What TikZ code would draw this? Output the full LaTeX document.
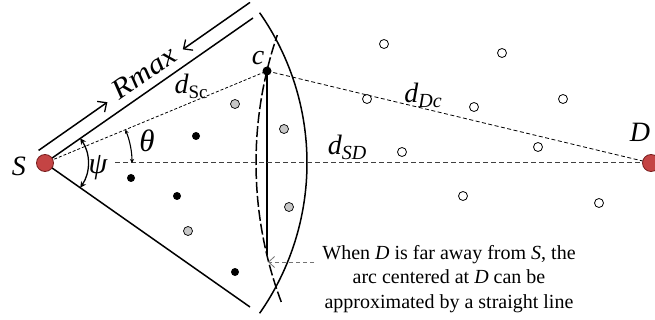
\documentclass[tikz,border=0pt]{standalone}
\usepackage{fontspec}
\setmainfont{Liberation Serif}
\usetikzlibrary{arrows.meta,backgrounds}
\begin{document}
\begin{tikzpicture}[x=1pt,y=-1pt,
  solidline/.style={line width=1.5pt},
  thindash/.style={line width=0.8pt, dash pattern=on 3pt off 2pt},
  bdot/.style={circle, fill=black, inner sep=0pt, minimum size=8pt},
  gdot/.style={circle, draw=black, line width=0.7pt, fill=black!22, inner sep=0pt, minimum size=9pt},
  wdot/.style={circle, draw=black, line width=0.8pt, fill=white, inner sep=0pt, minimum size=9pt},
  endpt/.style={circle, draw={rgb,255:red,120;green,30;blue,30}, line width=0.8pt, fill={rgb,255:red,196;green,68;blue,68}, inner sep=0pt, minimum size=17pt},
  lbl/.style={inner sep=0pt, font=\fontsize{28}{28}\selectfont\itshape},
  openarr/.style={-{Straight Barb[length=7pt,width=13pt,line width=1.3pt]}},
]
\useasboundingbox (0,0) rectangle (655,320);

% named nodes
\node[endpt] (S) at (45,163) {};
\node[endpt] (D) at (651,163) {};
\node[bdot, minimum size=9pt] (c) at (267,71) {};

% black dots
\node[bdot] (b1) at (196,136) {};
\node[bdot] (b2) at (131,178) {};
\node[bdot] (b3) at (177,196) {};
\node[bdot] (b4) at (235,272) {};
% gray dots
\node[gdot] (g1) at (235,104) {};
\node[gdot] (g2) at (284,129) {};
\node[gdot] (g3) at (289,207) {};
\node[gdot] (g4) at (188,231) {};
% white dots
\node[wdot] (w1) at (384,44) {};
\node[wdot] (w2) at (502,53) {};
\node[wdot] (w3) at (367,99) {};
\node[wdot] (w4) at (474,107) {};
\node[wdot] (w5) at (563,99) {};
\node[wdot] (w6) at (402,152) {};
\node[wdot] (w7) at (538,147) {};
\node[wdot] (w8) at (463,196) {};
\node[wdot] (w9) at (599,203) {};

% coordinates
\coordinate (E1) at (253,18);
\coordinate (E2) at (250,307);
\coordinate (hs) at (115,163);
\coordinate (vb) at (267,255);
\coordinate (r1) at (38.6,150.4);
\coordinate (r2) at (107.4,102.2);
\coordinate (r3) at (182.8,49.4);
\coordinate (r4) at (250,2.4);
\coordinate (ta) at (314,262);
\coordinate (tb) at (268,262);

\begin{scope}[on background layer]
\fill[white] (0,0) rectangle (655,320);
% sector edges
\draw[solidline] (S.center) -- (E1);
\draw[solidline] (S.center) -- (E2);
% outer arc centred at S
\draw[solidline] (S.center) ++(-35:262) arc[start angle=-35, end angle=35, radius=262];
% dashed arc centred at D
\draw[line width=1.5pt, dash pattern=on 11pt off 3pt] (D.center) ++(159.4:395) arc[start angle=159.4, end angle=198.9, radius=395];
% straight chord
\draw[line width=1.2pt] (c.center) -- (vb);
% distance lines
\draw[thindash] (S.center) -- (c.center);
\draw[thindash, dash pattern=on 4pt off 2.5pt] (c.center) -- (D.center);
\draw[black!75, line width=1pt, dash pattern=on 5pt off 3pt] (hs) -- (D.center);
% Rmax arrows
\draw[solidline, openarr] (r1) -- (r2);
\draw[solidline, openarr] (r4) -- (r3);
% psi arc
\draw[line width=1.3pt, {Stealth[length=6pt,width=6pt]}-{Stealth[length=6pt,width=6pt]}] (S.center) ++(-35:43) arc[start angle=-35, end angle=35, radius=43];
% theta arc
\draw[line width=1.1pt, {Stealth[length=4pt,width=4pt]}-{Stealth[length=4pt,width=4pt]}] (S.center) ++(-22.5:87) arc[start angle=-22.5, end angle=0, radius=87];
% note arrow
\draw[black!55, line width=1pt, dash pattern=on 4pt off 3pt, -{Straight Barb[length=6pt,width=11pt,line width=0.8pt]}] (ta) -- (tb);
\end{scope}

% labels
\node[lbl] (Sl) at (19,166) {S};
\node[lbl] (Dl) at (640,132) {D};
\node[lbl] (cl) at (258,58) {c};
\node[lbl, font=\fontsize{31}{31}\selectfont\itshape] (thl) at (147,141) {θ};
\node[lbl, font=\fontsize{30}{30}\selectfont\itshape] (psl) at (98,168) {ψ};
\node[lbl, rotate=35] (Rl) at (144,73) {\scalebox{1.12}[1]{Rmax}};
\node[inner sep=0pt] (dsc) at (191,86) {\fontsize{28}{28}\selectfont\itshape d\raisebox{-5pt}{\fontsize{19}{19}\selectfont\upshape Sc}};
\node[inner sep=0pt] (dsd) at (347,147) {\fontsize{28}{28}\selectfont\itshape d\raisebox{-5pt}{\fontsize{20}{20}\selectfont SD}};
\node[inner sep=0pt] (ddc) at (423,95) {\fontsize{28}{28}\selectfont\itshape d\raisebox{-5pt}{\fontsize{20}{20}\selectfont Dc}};
\node[font=\fontsize{20}{24.5}\selectfont, align=center, inner sep=0pt] (note) at (449,279) {When \textit{D} is far away from \textit{S}, the\\ arc centered at \textit{D} can be\\ approximated by a straight line};
\end{tikzpicture}
\end{document}
